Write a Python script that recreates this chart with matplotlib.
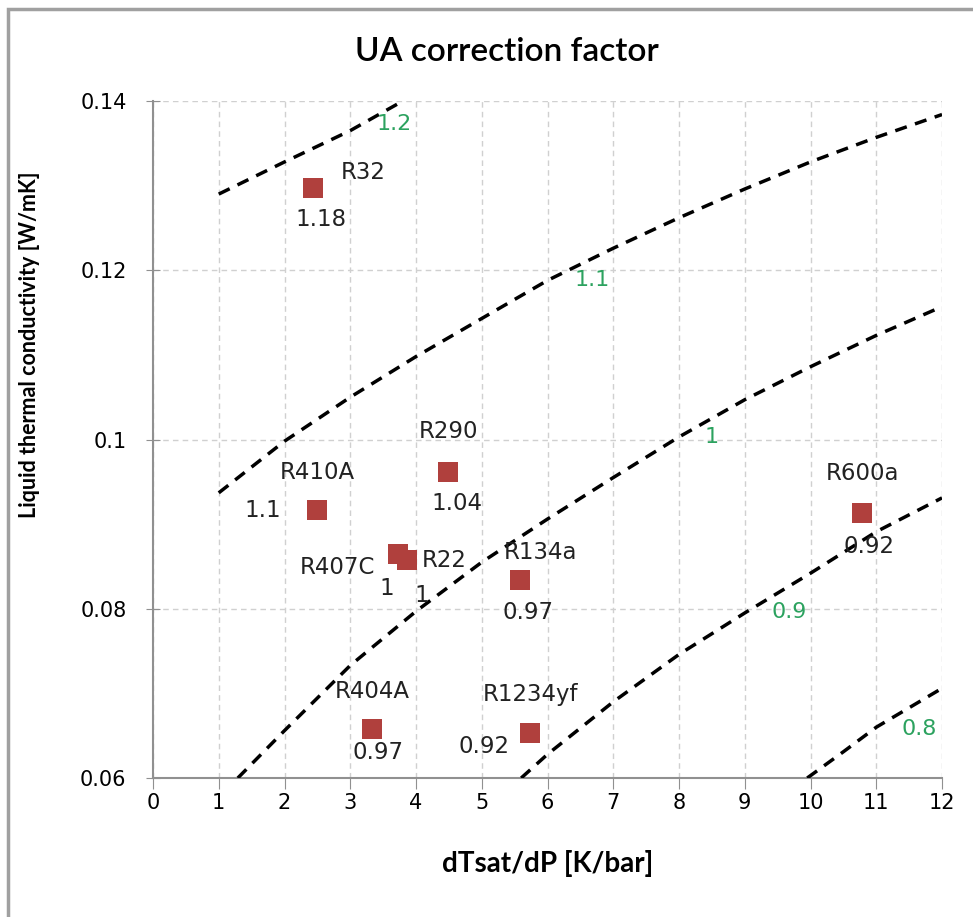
import matplotlib.pyplot as plt
from matplotlib.patches import Rectangle

# refrigerant points: dTsat/dP [K/bar] vs liquid thermal conductivity [W/mK]
refrigerants = ['R32', 'R410A', 'R290', 'R407C', 'R22', 'R134a', 'R600a', 'R404A', 'R1234yf']
dtdp = [2.43, 2.49, 4.48, 3.72, 3.87, 5.58, 10.78, 3.33, 5.73]
kliq = [0.1297, 0.0917, 0.0962, 0.0865, 0.0858, 0.0834, 0.0913, 0.0658, 0.0653]
factors = ['1.18', '1.1', '1.04', '1', '1', '0.97', '0.92', '0.97', '0.92']

# label offsets in pixels (name, value) - layout only
name_off = [(50, 16), (1, 37), (1, 40), (-60, -14), (37, -1), (21, 27), (1, 40), (0, 37), (1, 39)]
val_off = [(8, -31), (-54, -1), (9, -32), (-11, -35), (14, -36), (8, -33), (7, -33), (6, -24), (-46, -13)]

# iso-lines of the UA correction factor
iso_levels = ['1.2', '1.1', '1', '0.9', '0.8']
iso_x = [
    [1, 2, 3, 3.8],
    [1, 2, 3, 4, 5, 6, 7, 8, 9, 10, 11, 12],
    [1.29, 2, 3, 4, 5, 6, 7, 8, 9, 10, 11, 12],
    [5.6, 6, 7, 8, 9, 10, 11, 12],
    [9.95, 10.5, 11, 12],
]
iso_y = [
    [0.1290, 0.1328, 0.1365, 0.1400],
    [0.0937, 0.0998, 0.1050, 0.1098, 0.1143, 0.1188, 0.1226, 0.1262, 0.1296, 0.1328, 0.1357, 0.1384],
    [0.0600, 0.0656, 0.0733, 0.0797, 0.0855, 0.0906, 0.0955, 0.1003, 0.1047, 0.1086, 0.1123, 0.1157],
    [0.0600, 0.0628, 0.0690, 0.0746, 0.0795, 0.0842, 0.0891, 0.0931],
    [0.0600, 0.0631, 0.0660, 0.0706],
]
iso_lab_x = [3.67, 6.68, 8.5, 9.67, 11.65]
iso_lab_y = [0.1373, 0.1188, 0.1003, 0.0796, 0.0658]

plt.rcParams['font.family'] = ['DejaVu Sans']

fig = plt.figure(figsize=(9.73, 9.17), dpi=100)
fig.patches.append(Rectangle((8 / 973, -0.1), 1.1, 1 - 9 / 917 + 0.1, transform=fig.transFigure,
                             fill=False, edgecolor='#a0a0a0', linewidth=2.5))
ax = fig.add_axes([153 / 973, 1 - 778 / 917, (942 - 153) / 973, (778 - 101) / 917])

for xs, ys in zip(iso_x, iso_y):
    ax.plot(xs, ys, color='black', linestyle=(0, (3.5, 2.5)), linewidth=2.5, zorder=3)
for lab, lx, ly in zip(iso_levels, iso_lab_x, iso_lab_y):
    ax.text(lx, ly, lab, color='#2ca25f', fontsize=16, ha='center', va='center', zorder=4)

ax.scatter(dtdp, kliq, marker='s', s=210, color='#b0403d', zorder=5, linewidths=0)
for i, name in enumerate(refrigerants):
    ax.annotate(name, (dtdp[i], kliq[i]), xytext=name_off[i], textcoords='offset pixels',
                ha='center', va='center', fontsize=16.5, color='#222222', zorder=6)
    ax.annotate(factors[i], (dtdp[i], kliq[i]), xytext=val_off[i], textcoords='offset pixels',
                ha='center', va='center', fontsize=16.5, color='#222222', zorder=6)

ax.set_xlim(0, 12)
ax.set_ylim(0.06, 0.14)
ax.set_xticks(range(0, 13))
ax.set_yticks([0.06, 0.08, 0.1, 0.12, 0.14])
ax.set_yticklabels(['0.06', '0.08', '0.1', '0.12', '0.14'])
ax.grid(True, color='#d0d0d0', linestyle=(0, (4, 3)), linewidth=1)
ax.set_axisbelow(True)
for s in ['top', 'right']:
    ax.spines[s].set_visible(False)
for s in ['left', 'bottom']:
    ax.spines[s].set_color('#909090')
    ax.spines[s].set_linewidth(1.5)
ax.tick_params(axis='x', direction='out', length=8, color='#909090', labelsize=15, pad=3)
ax.tick_params(axis='y', direction='inout', length=10, color='#909090', labelsize=15, pad=14)

fig.text(0.5 + 20 / 973, 1 - 52 / 917, 'UA correction factor', fontsize=24, fontweight='semibold',
         ha='center', va='center', family=['Lato', 'DejaVu Sans'])
ax.set_xlabel('dTsat/dP [K/bar]', fontsize=20, fontweight='bold', family=['Lato', 'DejaVu Sans'])
ax.xaxis.set_label_coords(0.5, -0.106)
ax.set_ylabel('Liquid thermal conductivity [W/mK]', fontsize=15.5, fontweight='bold',
              family=['Lato', 'DejaVu Sans'])
ax.yaxis.set_label_coords(-0.143, 0.64)

fig.savefig('out.png', dpi=100)
